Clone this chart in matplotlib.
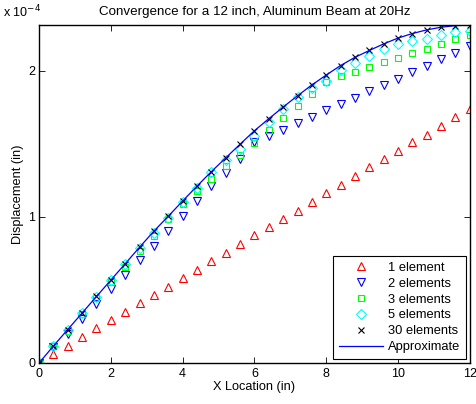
import numpy as np
import matplotlib.pyplot as plt

plt.rcParams["font.family"] = ["Liberation Sans", "DejaVu Sans"]
plt.rcParams["font.size"] = 9.2

# X positions along the beam (in)
x_loc = [0.0, 0.4, 0.8, 1.2, 1.6, 2.0, 2.4, 2.8, 3.2, 3.6, 4.0, 4.4, 4.8, 5.2, 5.6, 6.0,
         6.4, 6.8, 7.2, 7.6, 8.0, 8.4, 8.8, 9.2, 9.6, 10.0, 10.4, 10.8, 11.2, 11.6, 12.0]

# displacements, in units of 1e-4 in
disp_1el = [0, 0.062, 0.119, 0.180, 0.238, 0.295, 0.351, 0.409, 0.468, 0.523, 0.582,
            0.639, 0.699, 0.755, 0.815, 0.874, 0.929, 0.986, 1.043, 1.103, 1.162,
            1.221, 1.281, 1.340, 1.395, 1.452, 1.509, 1.562, 1.623, 1.683, 1.738]
disp_2el = [0, 0.110, 0.195, 0.300, 0.402, 0.505, 0.603, 0.702, 0.803, 0.904, 1.007,
            1.105, 1.208, 1.303, 1.395, 1.512, 1.555, 1.596, 1.639, 1.683, 1.728,
            1.772, 1.815, 1.860, 1.902, 1.945, 1.991, 2.032, 2.080, 2.121, 2.166]
disp_3el = [0, 0.115, 0.222, 0.332, 0.443, 0.553, 0.660, 0.766, 0.872, 0.984, 1.089,
            1.178, 1.260, 1.351, 1.425, 1.507, 1.596, 1.676, 1.758, 1.842, 1.925,
            1.961, 1.991, 2.024, 2.057, 2.087, 2.121, 2.149, 2.185, 2.217, 2.247]
disp_5el = [0, 0.117, 0.228, 0.340, 0.453, 0.565, 0.677, 0.786, 0.888, 0.991, 1.101,
            1.197, 1.310, 1.390, 1.464, 1.556, 1.649, 1.738, 1.817, 1.882, 1.932,
            2.002, 2.053, 2.100, 2.151, 2.183, 2.205, 2.219, 2.247, 2.265, 2.274]
disp_30el = [0, 0.116, 0.229, 0.342, 0.455, 0.567, 0.679, 0.792, 0.902, 1.004, 1.108,
             1.210, 1.309, 1.403, 1.497, 1.589, 1.671, 1.751, 1.828, 1.902, 1.970,
             2.035, 2.091, 2.138, 2.183, 2.223, 2.254, 2.279, 2.297, 2.308, 2.312]
disp_approx = disp_30el

fig = plt.figure(figsize=(4.76, 4.04), dpi=100)
ax = fig.add_axes([0.082, 0.1015, 0.905, 0.8365])

mk = dict(linestyle="none", markerfacecolor="none", markeredgewidth=0.8)
ax.plot(x_loc, disp_1el, marker="^", markersize=6, color="#ff0000", label="1 element", **mk)
ax.plot(x_loc, disp_2el, marker="v", markersize=6, color="#0000ff", label="2 elements", **mk)
ax.plot(x_loc, disp_3el, marker="s", markersize=5, color="#00ff00", label="3 elements", **mk)
ax.plot(x_loc, disp_5el, marker="D", markersize=5, color="#00ffff", label="5 elements", **mk)
ax.plot(x_loc, disp_30el, marker="x", markersize=4.5, color="black", label="30 elements", **mk)
ax.plot(x_loc, disp_approx, color="#0000ff", linewidth=0.9, label="Approximate")

ax.set_xlim(0, 12)
ax.set_ylim(0, max(disp_approx))
ax.set_xticks(range(0, 13, 2))
ax.set_yticks([0, 1, 2])
ax.tick_params(direction="in", top=True, right=True, length=4, width=0.6, labelsize=9)
ax.tick_params(axis="y", pad=2.5)
for s in ax.spines.values():
    s.set_linewidth(1.0)

ax.text(-0.083, 1.015, r"x 10$^{-4}$", transform=ax.transAxes, ha="left", va="bottom",
        fontsize=9)
ax.set_title("Convergence for a 12 inch, Aluminum Beam at 20Hz", pad=7, fontsize=9.6)
ax.set_xlabel("X Location (in)", labelpad=1)
ax.set_ylabel("Displacement (in)", labelpad=3)

leg = ax.legend(loc="lower right", fancybox=False, edgecolor="black", framealpha=1,
                borderaxespad=0.3, handlelength=3.4, labelspacing=0.3,
                borderpad=0.45, handletextpad=0.4, fontsize=9.3)
leg.get_frame().set_linewidth(0.8)

fig.savefig("out.png", dpi=100)
